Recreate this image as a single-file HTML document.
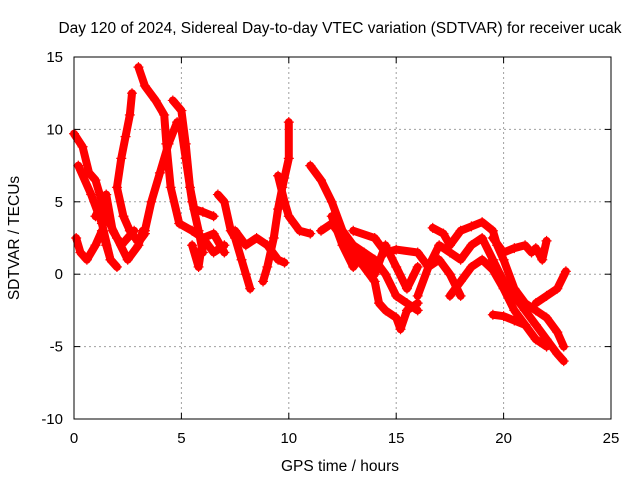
<!DOCTYPE html>
<html><head><meta charset="utf-8"><style>
body{margin:0;background:#fff}
svg{display:block;font-family:"Liberation Sans",sans-serif}
</style></head><body>
<svg id="chart" width="640" height="480">
<text x="340" y="33" font-size="15.5" text-anchor="middle">Day 120 of 2024, Sidereal Day-to-day VTEC variation (SDTVAR) for receiver ucak</text>
<text x="340" y="471" font-size="15.5" text-anchor="middle">GPS time / hours</text>
<text x="19" y="238" font-size="15.5" text-anchor="middle" transform="rotate(-90 19 238)">SDTVAR / TECUs</text>
<g id="grid"></g><g id="ticks"></g><g id="marks"></g>
<rect x="74" y="57" width="537" height="362" fill="none" stroke="#000" stroke-width="1"/>
</svg>
<script>
const xTicks=[0,5,10,15,20,25];
const yTicks=[-10,-5,0,5,10,15];
const trackA=[[3.0,14.3],[3.3,13],[3.8,12],[4.2,11],[4.3,9],[4.5,6],[4.9,3.5],[5.5,3],[6,2.5],[6.5,2.8],[7,1.5]];
const trackB=[[2.7,12.5],[2.6,11],[2.4,9.5],[2.2,8],[2.0,6],[2.3,4],[2.6,3],[3.0,2.2],[3.3,2.8]];
const trackC=[[3.3,3],[3.6,5],[4,7],[4.4,9],[4.8,10.5],[5.0,10],[5.2,8],[5.5,5],[5.8,3],[6,1.5]];
const trackD=[[4.6,12],[5,11.3],[5.2,9],[5.4,6],[5.6,4.5],[6.0,4.3],[6.5,4]];
const trackE=[[0,9.7],[0.4,8.8],[0.7,7],[1,6.5],[1.5,4],[2,2.5],[2.5,1],[3,2],[3.2,3]];
const trackF=[[0.2,7.5],[0.8,5.5],[1.3,3.5],[1.7,1],[2,0.5]];
const trackG=[[0.1,2.5],[0.3,1.5],[0.6,1],[1,2],[1.3,3],[1.5,2],[1.7,1]];
const trackH=[[6.7,5.5],[7,5],[7.3,3],[7.5,2.5],[7.8,1],[8,0],[8.2,-1]];
const trackI=[[7.5,3],[8,2],[8.5,2.5],[9,2],[9.5,1],[9.8,0.8]];
const trackJ=[[8.8,-0.5],[9,0.5],[9.3,2.5],[9.5,4.5],[9.7,6],[10,8],[10,10.5]];
const trackK=[[9.5,6.8],[9.8,5],[10,4],[10.5,3],[11,2.8]];
const trackL=[[11,7.5],[11.5,6.5],[12,5],[12.5,3],[13,2],[13.5,1.5],[14,1],[14.5,0],[15,-1.5],[15.5,-2],[16,-2.5]];
const trackM=[[11.5,3],[12,3.5],[12.5,2.5],[13,1.5],[13.5,0.5],[14,-0.5],[14.2,-2],[14.5,-2.5],[15,-3],[15.2,-3.8],[15.5,-2.5],[16,-2]];
const trackN=[[13,3],[14,2.5],[14.5,1.5],[15,1.7],[16,1.5],[16.5,0.5],[17,1],[17.5,0],[18,-1.5]];
const trackO=[[16.7,3.2],[17.2,2.8],[17.5,2],[18,3],[18.5,3.3],[19,3.6],[19.5,3],[19.7,2],[20,1],[20.5,-1],[21,-2],[21.5,-2.5],[22,-3],[22.5,-4],[22.8,-5]];
const trackP=[[16,-1.5],[16.5,0.5],[17,2],[17.5,1.5],[18,1],[18.5,2],[19,2.5],[19.5,1],[20,-0.5],[20.5,-1.5],[21,-2.5],[21.5,-3.5],[22,-4.5],[22.5,-5.5],[22.8,-6]];
const trackQ=[[17.5,-1.5],[18,-0.5],[18.5,0.5],[19,1],[19.5,0.3],[20,-1],[20.5,-2.5],[21,-3.5],[21.5,-4.5],[22,-5]];
const trackR=[[19.5,-2.8],[20,-2.9],[20.5,-3.2],[21,-3.5]];
const trackS=[[19.5,2.5],[20,1.5],[20.5,1.8],[21,2],[21.3,1.5],[21.5,1.8],[21.8,1],[22,2.3]];
const trackT=[[21.5,-2],[22,-1.5],[22.5,-1],[22.9,0.2]];
const trackU=[[12,4],[12.5,2],[13,0.5],[13.5,1.5],[14,0],[14.5,2],[15,0.5],[15.5,-1],[16,0.5]];
const trackV=[[5.5,2],[5.8,0.5],[6,2.5],[6.5,1.5],[7,2]];
const trackW=[[1,4],[1.5,5.5],[1.8,3],[2.2,2],[2.8,3]];
const tracks=[trackA,trackB,trackC,trackD,trackE,trackF,trackG,trackH,trackI,trackJ,trackK,trackL,trackM,trackN,trackO,trackP,trackQ,trackR,trackS,trackT,trackU,trackV,trackW];
const X0=74,X1=611,Y0=419,Y1=57;
function xs(v){return X0+(v-0)/25*(X1-X0);}
function ys(v){return Y0-(v+10)/25*(Y0-Y1);}
const NS='http://www.w3.org/2000/svg';
const grid=document.getElementById('grid'),ticks=document.getElementById('ticks'),marks=document.getElementById('marks');
function mk(t,a,p){const e=document.createElementNS(NS,t);for(const k in a)e.setAttribute(k,a[k]);p.appendChild(e);return e;}
xTicks.forEach(v=>{const x=xs(v);
 if(v>0&&v<25){const g=mk('line',{x1:x,x2:x,y1:Y0,y2:Y1,stroke:'#a0a0a0','stroke-dasharray':'2,3'},grid);
 
 }
 mk('line',{x1:x,x2:x,y1:Y0,y2:Y0-6,stroke:'#000'},ticks);
 mk('line',{x1:x,x2:x,y1:Y1,y2:Y1+6,stroke:'#000'},ticks);
 const t=mk('text',{x:x,y:443,'font-size':15,'text-anchor':'middle'},ticks);t.textContent=v;
 
 });
yTicks.forEach(v=>{const y=ys(v);
 if(v>-10&&v<15){const g=mk('line',{x1:X0,x2:X1,y1:y,y2:y,stroke:'#a0a0a0','stroke-dasharray':'2,3'},grid);
 
 }
 mk('line',{x1:X0,x2:X0+6,y1:y,y2:y,stroke:'#000'},ticks);
 mk('line',{x1:X1,x2:X1-6,y1:y,y2:y,stroke:'#000'},ticks);
 const t=mk('text',{x:63,y:y+5,'font-size':15,'text-anchor':'end'},ticks);t.textContent=v;
 
 });
tracks.forEach((tr,i)=>{
 const pl=mk('polyline',{points:tr.map(p=>xs(p[0])+','+ys(p[1])).join(' '),fill:'none',stroke:'#f00','stroke-width':8,'stroke-linejoin':'round','stroke-linecap':'round'},marks);
 
 
 tr.forEach(p=>{const x=xs(p[0]),y=ys(p[1]);
  const m=mk('path',{d:`M${x-5},${y}H${x+5}M${x},${y-5}V${y+5}`,stroke:'#f00','stroke-width':1.2},marks);
  
  });
});
</script>
</body></html>
